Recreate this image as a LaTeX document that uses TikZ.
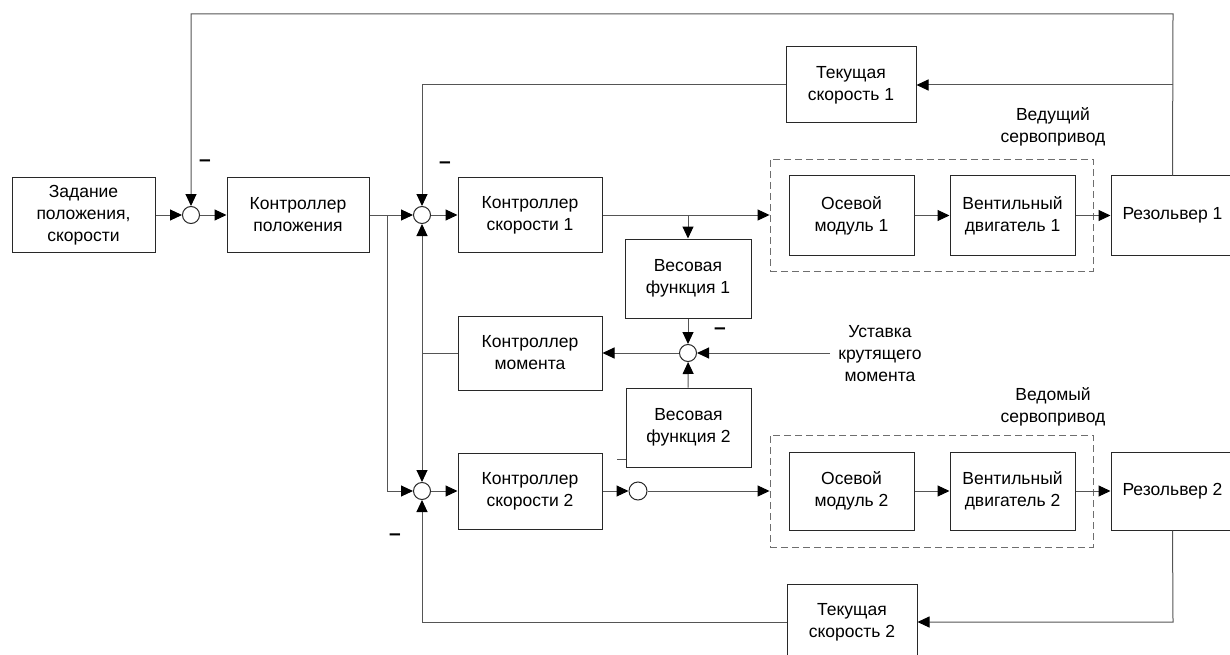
\documentclass[tikz,border=0pt]{standalone}
\usepackage{fontspec}
\setmainfont{Liberation Sans}
\usetikzlibrary{arrows.meta}
\definecolor{linec}{RGB}{85,85,85}
\definecolor{boxc}{RGB}{40,40,40}
\definecolor{dashc}{RGB}{110,110,110}
\tikzset{
  fs/.style={font=\fontsize{17.5}{22}\selectfont},
  blk/.style={draw=boxc, line width=1pt, fill=white, align=center, inner sep=0pt, fs},
  dbox/.style={draw=dashc, line width=0.9pt, dash pattern=on 7pt off 4pt, inner sep=0pt},
  sumc/.style={circle, draw=boxc, fill=white, minimum size=17pt, inner sep=0pt, line width=1pt},
  ln/.style={draw=linec, line width=1pt},
  arr/.style={ln, -{Triangle[length=12pt,width=11pt,color=black]}},
  lbl/.style={align=center, inner sep=0pt, fs},
  minus/.style={inner sep=0pt, font=\fontsize{21}{21}\selectfont\bfseries}
}
\begin{document}
\begin{tikzpicture}[x=1pt,y=-1pt]
\useasboundingbox (0,0) rectangle (1230,655);
\clip (0,0) rectangle (1230,655);
% dashed groups
\node[dbox, minimum width=323pt, minimum height=112pt] (d1) at (931.5,215) {};
\node[dbox, minimum width=323pt, minimum height=112pt] (d2) at (931.5,491) {};
% blocks
\node[blk, minimum width=143pt, minimum height=74pt] (zad) at (83.5,215) {Задание\\положения,\\скорости};
\node[sumc] (s1) at (191,215) {};
\node[blk, minimum width=142pt, minimum height=74pt] (kp) at (298,215) {Контроллер\\положения};
\node[sumc] (s2) at (422,215) {};
\node[blk, minimum width=144pt, minimum height=74pt] (ks1) at (530,215) {Контроллер\\скорости 1};
\node[blk, minimum width=126pt, minimum height=79pt] (vf1) at (688,278.5) {Весовая\\функция 1};
\node[sumc] (s3) at (688,353) {};
\node[blk, minimum width=144pt, minimum height=74pt] (km) at (530,353) {Контроллер\\момента};
\node[blk, minimum width=125pt, minimum height=79pt] (vf2) at (688.5,427.5) {Весовая\\функция 2};
\node[sumc] (s4) at (422,491) {};
\node[blk, minimum width=144pt, minimum height=76pt] (ks2) at (530,491) {Контроллер\\скорости 2};
\node[sumc, minimum size=18pt] (c5) at (638,491) {};
\node[blk, minimum width=125pt, minimum height=79pt] (om1) at (851.5,215.5) {Осевой\\модуль 1};
\node[blk, minimum width=125pt, minimum height=79pt] (vd1) at (1012.5,215.5) {Вентильный\\двигатель 1};
\node[blk, minimum width=123pt, minimum height=79pt] (r1) at (1172.5,215.5) {Резольвер 1};
\node[blk, minimum width=130pt, minimum height=76pt] (ts1) at (851,85) {Текущая\\скорость 1};
\node[blk, minimum width=125pt, minimum height=78pt] (om2) at (851.5,491) {Осевой\\модуль 2};
\node[blk, minimum width=125pt, minimum height=78pt] (vd2) at (1012.5,491) {Вентильный\\двигатель 2};
\node[blk, minimum width=123pt, minimum height=78pt] (r2) at (1172.5,491) {Резольвер 2};
\node[blk, minimum width=130pt, minimum height=76pt] (ts2) at (852,622) {Текущая\\скорость 2};
% labels
\node[lbl] (lab1) at (1053,127) {Ведущий\\сервопривод};
\node[lbl] (lab2) at (1053,407) {Ведомый\\сервопривод};
\node[lbl] (lab3) at (880,354) {Уставка\\крутящего\\момента};
\node[minus] (m1) at (205,163) {–};
\node[minus] (m2) at (445,165) {–};
\node[minus] (m3) at (720,331) {–};
\node[minus] (m4) at (395,537) {–};
% coordinates
\coordinate (b1) at (387,215);
\coordinate (b1d) at (387,491);
\coordinate (b2) at (688,215);
\coordinate (ust) at (830,353);
\coordinate (j) at (422,353);
\coordinate (t1) at (1173,14);
\coordinate (t2) at (191,14);
\coordinate (f1) at (1173,85);
\coordinate (f2) at (422,85);
\coordinate (g1) at (1173,622);
\coordinate (g2) at (422,622);
\coordinate (k1) at (617,459);
% connectors
\draw[arr] (zad) -- (s1);
\draw[arr] (s1) -- (kp);
\draw[arr] (kp) -- (s2);
\draw[arr] (b1) -- (b1d) -- (s4);
\draw[arr] (s2) -- (ks1);
\draw[arr] (ks1) -- (d1.west);
\draw[arr] (b2) -- (vf1);
\draw[arr] (vf1) -- (s3);
\draw[arr] (vf2) -- (s3);
\draw[arr] (ust) -- (s3);
\draw[arr] (s3) -- (km);
\draw[ln] (km) -- (j);
\draw[arr] (j) -- (s2);
\draw[arr] (j) -- (s4);
\draw[arr] (s4) -- (ks2);
\draw[arr] (ks2) -- (c5);
\draw[arr] (c5) -- (d2.west);
\draw[arr] (om1) -- (vd1);
\draw[arr] (vd1) -- (r1);
\draw[arr] (om2) -- (vd2);
\draw[arr] (vd2) -- (r2);
\draw[arr] (r1.north) -- (t1) -- (t2) -- (s1);
\draw[arr] (f1) -- (ts1);
\draw[arr] (ts1) -- (f2) -- (s2);
\draw[arr] (r2.south) -- (g1) -- (ts2);
\draw[arr] (ts2) -- (g2) -- (s4);
\draw[ln] (k1) -- (k1 -| vf2.west);
\end{tikzpicture}
\end{document}
